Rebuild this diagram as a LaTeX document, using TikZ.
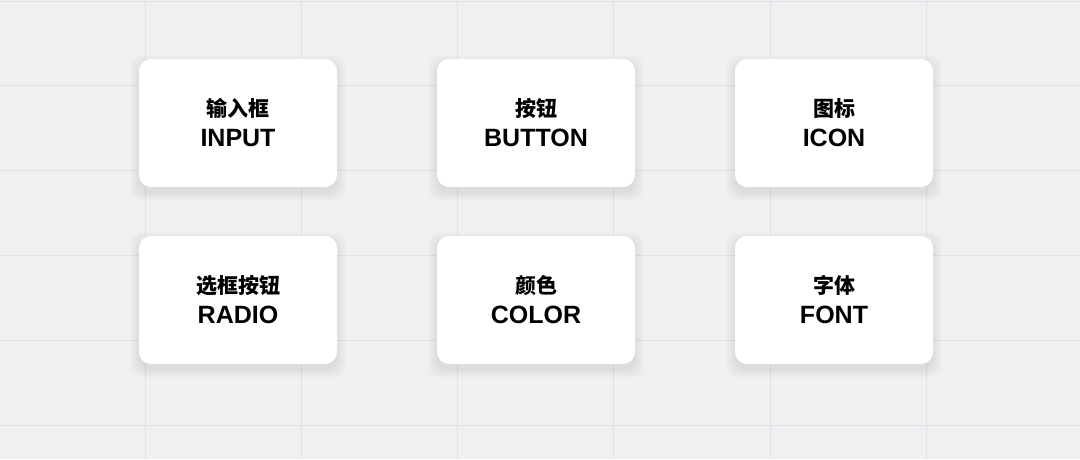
\documentclass[tikz,border=0pt]{standalone}
\usepackage{fontspec}
\setmainfont{Liberation Sans}
\newfontfamily\cjk{Noto Sans CJK SC}
\usetikzlibrary{backgrounds}
\definecolor{pagebg}{HTML}{F0F0F3}
\definecolor{gridln}{HTML}{E1E1E5}

\begin{document}
\begin{tikzpicture}[x=1pt,y=-1pt,
	card/.style={rectangle, rounded corners=12pt, fill=white, minimum width=198pt, minimum height=128pt, inner sep=0pt, align=center, font=\bfseries\fontsize{25}{25}\selectfont}]
	
	\useasboundingbox (0,0) rectangle (1080,459);
	
	\node[card] (input) at (238,123) {{\cjk\fontsize{21}{21}\selectfont 输入框}\\[5pt]INPUT};
	\node[card] (button) at (536,123) {{\cjk\fontsize{21}{21}\selectfont 按钮}\\[5pt]BUTTON};
	\node[card] (icon) at (834,123) {{\cjk\fontsize{21}{21}\selectfont 图标}\\[5pt]ICON};
	\node[card] (radio) at (238,300) {{\cjk\fontsize{21}{21}\selectfont 选框按钮}\\[5pt]RADIO};
	\node[card] (color) at (536,300) {{\cjk\fontsize{21}{21}\selectfont 颜色}\\[5pt]COLOR};
	\node[card] (font) at (834,300) {{\cjk\fontsize{21}{21}\selectfont 字体}\\[5pt]FONT};
	
	\begin{scope}[on background layer]
		\fill[pagebg] (0,0) rectangle (1080,459);
		\foreach \x in {145,301.3,457.6,613.9,770.2,926.5}
			\draw[gridln, line width=1pt] (\x,0) -- (\x,459);
		\foreach \y in {1,85,170,255,340,425}
			\draw[gridln, line width=1pt] (0,\y) -- (1080,\y);
		% soft shadow under the cards
		\foreach \n in {input,button,icon,radio,color,font}
			\foreach \s in {1,...,10}
				\fill[black, opacity=.007, rounded corners=12pt]
					([shift={(-\s+1,-\s+6)}]\n.north west) rectangle ([shift={(\s-1,\s+4)}]\n.south east);
	\end{scope}
\end{tikzpicture}
\end{document}
